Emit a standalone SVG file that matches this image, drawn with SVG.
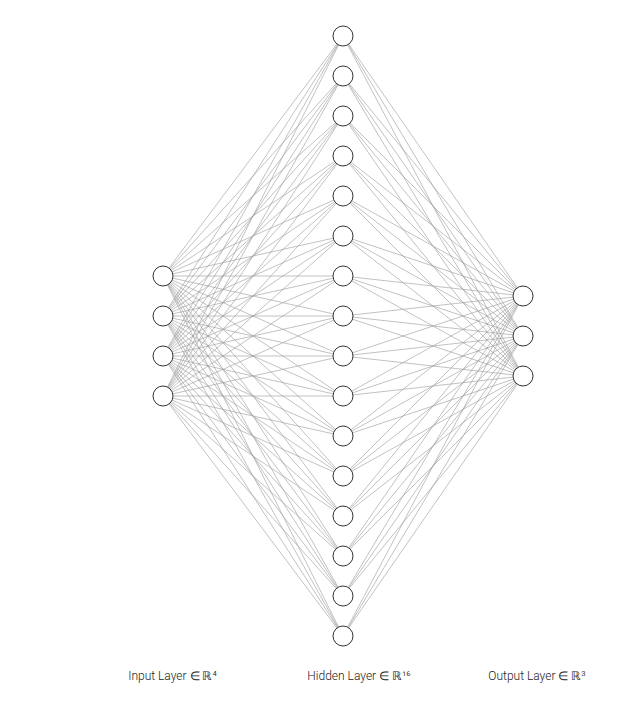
<svg xmlns="http://www.w3.org/2000/svg" width="639" height="714" viewBox="0 0 639 714">
<style>
.c{fill:#fff;stroke:#333;stroke-width:1}
.e line{stroke:#999;stroke-width:0.6}
.t{font-family:Roboto,"Liberation Sans","DejaVu Sans",sans-serif;font-weight:300;font-size:12px;fill:#222;text-anchor:middle}
</style>
<rect width="639" height="714" fill="#fff"/>
<g id="connectors" class="e">
<line x1="163" y1="276" x2="343" y2="36"/><line x1="163" y1="276" x2="343" y2="76"/><line x1="163" y1="276" x2="343" y2="116"/><line x1="163" y1="276" x2="343" y2="156"/><line x1="163" y1="276" x2="343" y2="196"/><line x1="163" y1="276" x2="343" y2="236"/><line x1="163" y1="276" x2="343" y2="276"/><line x1="163" y1="276" x2="343" y2="316"/><line x1="163" y1="276" x2="343" y2="356"/><line x1="163" y1="276" x2="343" y2="396"/><line x1="163" y1="276" x2="343" y2="436"/><line x1="163" y1="276" x2="343" y2="476"/><line x1="163" y1="276" x2="343" y2="516"/><line x1="163" y1="276" x2="343" y2="556"/><line x1="163" y1="276" x2="343" y2="596"/><line x1="163" y1="276" x2="343" y2="636"/>
<line x1="163" y1="316" x2="343" y2="36"/><line x1="163" y1="316" x2="343" y2="76"/><line x1="163" y1="316" x2="343" y2="116"/><line x1="163" y1="316" x2="343" y2="156"/><line x1="163" y1="316" x2="343" y2="196"/><line x1="163" y1="316" x2="343" y2="236"/><line x1="163" y1="316" x2="343" y2="276"/><line x1="163" y1="316" x2="343" y2="316"/><line x1="163" y1="316" x2="343" y2="356"/><line x1="163" y1="316" x2="343" y2="396"/><line x1="163" y1="316" x2="343" y2="436"/><line x1="163" y1="316" x2="343" y2="476"/><line x1="163" y1="316" x2="343" y2="516"/><line x1="163" y1="316" x2="343" y2="556"/><line x1="163" y1="316" x2="343" y2="596"/><line x1="163" y1="316" x2="343" y2="636"/>
<line x1="163" y1="356" x2="343" y2="36"/><line x1="163" y1="356" x2="343" y2="76"/><line x1="163" y1="356" x2="343" y2="116"/><line x1="163" y1="356" x2="343" y2="156"/><line x1="163" y1="356" x2="343" y2="196"/><line x1="163" y1="356" x2="343" y2="236"/><line x1="163" y1="356" x2="343" y2="276"/><line x1="163" y1="356" x2="343" y2="316"/><line x1="163" y1="356" x2="343" y2="356"/><line x1="163" y1="356" x2="343" y2="396"/><line x1="163" y1="356" x2="343" y2="436"/><line x1="163" y1="356" x2="343" y2="476"/><line x1="163" y1="356" x2="343" y2="516"/><line x1="163" y1="356" x2="343" y2="556"/><line x1="163" y1="356" x2="343" y2="596"/><line x1="163" y1="356" x2="343" y2="636"/>
<line x1="163" y1="396" x2="343" y2="36"/><line x1="163" y1="396" x2="343" y2="76"/><line x1="163" y1="396" x2="343" y2="116"/><line x1="163" y1="396" x2="343" y2="156"/><line x1="163" y1="396" x2="343" y2="196"/><line x1="163" y1="396" x2="343" y2="236"/><line x1="163" y1="396" x2="343" y2="276"/><line x1="163" y1="396" x2="343" y2="316"/><line x1="163" y1="396" x2="343" y2="356"/><line x1="163" y1="396" x2="343" y2="396"/><line x1="163" y1="396" x2="343" y2="436"/><line x1="163" y1="396" x2="343" y2="476"/><line x1="163" y1="396" x2="343" y2="516"/><line x1="163" y1="396" x2="343" y2="556"/><line x1="163" y1="396" x2="343" y2="596"/><line x1="163" y1="396" x2="343" y2="636"/>
<line x1="343" y1="36" x2="523" y2="296"/><line x1="343" y1="36" x2="523" y2="336"/><line x1="343" y1="36" x2="523" y2="376"/>
<line x1="343" y1="76" x2="523" y2="296"/><line x1="343" y1="76" x2="523" y2="336"/><line x1="343" y1="76" x2="523" y2="376"/>
<line x1="343" y1="116" x2="523" y2="296"/><line x1="343" y1="116" x2="523" y2="336"/><line x1="343" y1="116" x2="523" y2="376"/>
<line x1="343" y1="156" x2="523" y2="296"/><line x1="343" y1="156" x2="523" y2="336"/><line x1="343" y1="156" x2="523" y2="376"/>
<line x1="343" y1="196" x2="523" y2="296"/><line x1="343" y1="196" x2="523" y2="336"/><line x1="343" y1="196" x2="523" y2="376"/>
<line x1="343" y1="236" x2="523" y2="296"/><line x1="343" y1="236" x2="523" y2="336"/><line x1="343" y1="236" x2="523" y2="376"/>
<line x1="343" y1="276" x2="523" y2="296"/><line x1="343" y1="276" x2="523" y2="336"/><line x1="343" y1="276" x2="523" y2="376"/>
<line x1="343" y1="316" x2="523" y2="296"/><line x1="343" y1="316" x2="523" y2="336"/><line x1="343" y1="316" x2="523" y2="376"/>
<line x1="343" y1="356" x2="523" y2="296"/><line x1="343" y1="356" x2="523" y2="336"/><line x1="343" y1="356" x2="523" y2="376"/>
<line x1="343" y1="396" x2="523" y2="296"/><line x1="343" y1="396" x2="523" y2="336"/><line x1="343" y1="396" x2="523" y2="376"/>
<line x1="343" y1="436" x2="523" y2="296"/><line x1="343" y1="436" x2="523" y2="336"/><line x1="343" y1="436" x2="523" y2="376"/>
<line x1="343" y1="476" x2="523" y2="296"/><line x1="343" y1="476" x2="523" y2="336"/><line x1="343" y1="476" x2="523" y2="376"/>
<line x1="343" y1="516" x2="523" y2="296"/><line x1="343" y1="516" x2="523" y2="336"/><line x1="343" y1="516" x2="523" y2="376"/>
<line x1="343" y1="556" x2="523" y2="296"/><line x1="343" y1="556" x2="523" y2="336"/><line x1="343" y1="556" x2="523" y2="376"/>
<line x1="343" y1="596" x2="523" y2="296"/><line x1="343" y1="596" x2="523" y2="336"/><line x1="343" y1="596" x2="523" y2="376"/>
<line x1="343" y1="636" x2="523" y2="296"/><line x1="343" y1="636" x2="523" y2="336"/><line x1="343" y1="636" x2="523" y2="376"/>
</g>
<g id="input-layer">
<g id="in1"><circle class="c" cx="163" cy="276" r="10"/></g>
<g id="in2"><circle class="c" cx="163" cy="316" r="10"/></g>
<g id="in3"><circle class="c" cx="163" cy="356" r="10"/></g>
<g id="in4"><circle class="c" cx="163" cy="396" r="10"/></g>
</g>
<g id="hidden-layer">
<g id="h1"><circle class="c" cx="343" cy="36" r="10"/></g>
<g id="h2"><circle class="c" cx="343" cy="76" r="10"/></g>
<g id="h3"><circle class="c" cx="343" cy="116" r="10"/></g>
<g id="h4"><circle class="c" cx="343" cy="156" r="10"/></g>
<g id="h5"><circle class="c" cx="343" cy="196" r="10"/></g>
<g id="h6"><circle class="c" cx="343" cy="236" r="10"/></g>
<g id="h7"><circle class="c" cx="343" cy="276" r="10"/></g>
<g id="h8"><circle class="c" cx="343" cy="316" r="10"/></g>
<g id="h9"><circle class="c" cx="343" cy="356" r="10"/></g>
<g id="h10"><circle class="c" cx="343" cy="396" r="10"/></g>
<g id="h11"><circle class="c" cx="343" cy="436" r="10"/></g>
<g id="h12"><circle class="c" cx="343" cy="476" r="10"/></g>
<g id="h13"><circle class="c" cx="343" cy="516" r="10"/></g>
<g id="h14"><circle class="c" cx="343" cy="556" r="10"/></g>
<g id="h15"><circle class="c" cx="343" cy="596" r="10"/></g>
<g id="h16"><circle class="c" cx="343" cy="636" r="10"/></g>
</g>
<g id="output-layer">
<g id="out1"><circle class="c" cx="523" cy="296" r="10"/></g>
<g id="out2"><circle class="c" cx="523" cy="336" r="10"/></g>
<g id="out3"><circle class="c" cx="523" cy="376" r="10"/></g>
</g>
<g id="labels">
<text class="t" x="172.5" y="680">Input Layer ∈ ℝ⁴</text>
<text class="t" x="359" y="680">Hidden Layer ∈ ℝ¹⁶</text>
<text class="t" x="537" y="680">Output Layer ∈ ℝ³</text>
</g>
</svg>
